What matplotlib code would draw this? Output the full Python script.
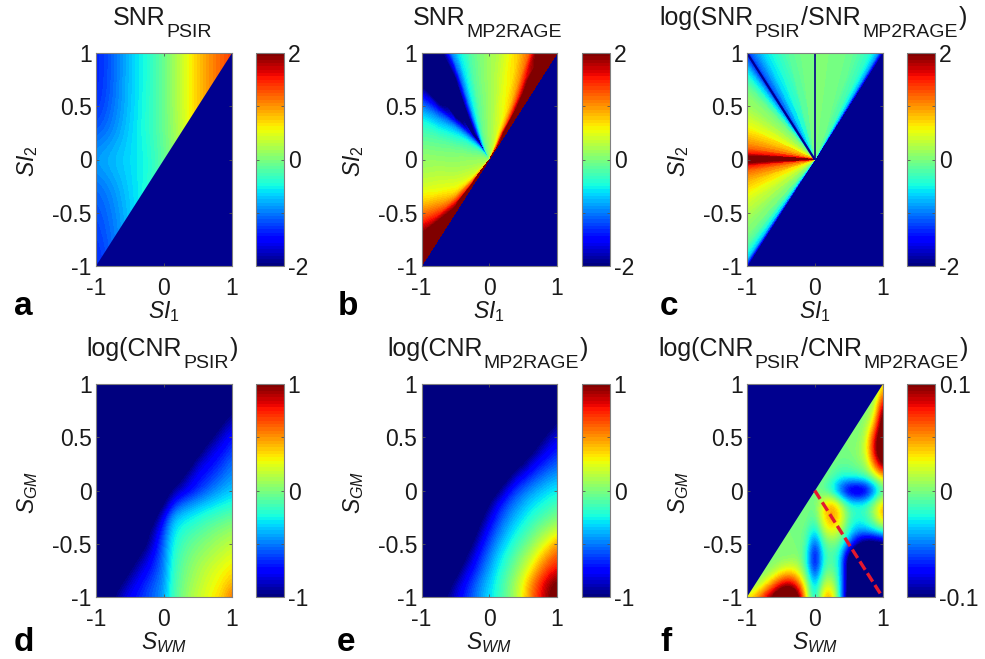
import numpy as np
import matplotlib
matplotlib.use("Agg")
import matplotlib.pyplot as plt
from matplotlib.patches import Polygon
from matplotlib.tri import Triangulation
from matplotlib.cm import ScalarMappable
from matplotlib.colors import Normalize

plt.rcParams['font.family'] = ['Liberation Sans', 'DejaVu Sans']
plt.rcParams['mathtext.fontset'] = 'custom'
plt.rcParams['mathtext.rm'] = 'Liberation Sans'
plt.rcParams['mathtext.it'] = 'Liberation Sans:italic'
plt.rcParams['axes.unicode_minus'] = False

W, H = 985, 659
NAVY = '#00008f'
TEXT = '#1a1a1a'
jet = plt.get_cmap('jet', 64)


def row(*vals):
    # left part of the row is flat navy
    return [-1.1] * (17 - len(vals)) + list(vals)


# grid values, rows run from y=1 down to y=-1
snr_psir = [
    [-1.4, -1.1, -0.7, -0.45, -0.1, 0.35, 0.8, 1.1, 1.4],
    [-1.4, -1.1, -0.7, -0.45, -0.1, 0.35, 0.8, 1.1, 1.4],
    [-1.35, -1.05, -0.7, -0.42, -0.1, 0.35, 0.8, 1.1, 1.4],
    [-1.15, -0.95, -0.65, -0.42, -0.1, 0.3, 0.8, 1.1, 1.4],
    [-0.8, -0.7, -0.62, -0.5, -0.15, 0.25, 0.8, 1.1, 1.4],
    [-1.1, -0.9, -0.65, -0.45, -0.15, 0.25, 0.8, 1.1, 1.4],
    [-1.2, -1.0, -0.7, -0.42, -0.15, 0.25, 0.8, 1.1, 1.4],
    [-1.3, -1.05, -0.72, -0.45, -0.15, 0.25, 0.8, 1.1, 1.4],
    [-1.4, -1.1, -0.75, -0.45, -0.15, 0.25, 0.8, 1.1, 1.4],
]

cnr_psir = [
    row(),
    row(),
    row(-1.0),
    row(-1.1, -0.98, -0.85),
    row(-1.1, -0.95, -0.82, -0.72),
    row(-1.1, -0.9, -0.8, -0.72, -0.62),
    row(-1.1, -0.85, -0.78, -0.7, -0.62, -0.52),
    row(-1.05, -0.85, -0.75, -0.68, -0.6, -0.52, -0.45),
    row(-1.0, -0.85, -0.75, -0.65, -0.55, -0.47, -0.4, -0.35),
    row(-1.05, -0.72, -0.55, -0.47, -0.4, -0.35, -0.3, -0.26, -0.22),
    row(-1.05, -0.75, -0.42, -0.33, -0.28, -0.23, -0.18, -0.14, -0.1, -0.06),
    row(-1.05, -0.88, -0.6, -0.32, -0.22, -0.16, -0.11, -0.06, -0.01, 0.03, 0.07),
    row(-1.1, -1.0, -0.78, -0.52, -0.27, -0.15, -0.07, -0.02, 0.03, 0.08, 0.12, 0.16),
    row(-1.1, -1.0, -0.85, -0.68, -0.5, -0.23, -0.1, -0.02, 0.05, 0.1, 0.15, 0.2, 0.25),
    row(-1.1, -1.0, -0.85, -0.75, -0.62, -0.48, -0.2, -0.07, 0.03, 0.1, 0.17, 0.23, 0.28, 0.33),
    row(-1.1, -1.0, -0.85, -0.75, -0.65, -0.55, -0.45, -0.18, -0.04, 0.06, 0.14, 0.21, 0.27, 0.34, 0.42),
    row(-1.1, -1.0, -0.85, -0.76, -0.68, -0.6, -0.52, -0.42, -0.15, -0.02, 0.09, 0.17, 0.25, 0.32, 0.4, 0.6),
]

cnr_mp2rage = [
    row(),
    row(),
    row(-1.1),
    row(-1.1, -0.93),
    row(-1.05, -0.9, -0.8),
    row(-1.05, -0.87, -0.76, -0.68),
    row(-1.1, -1.0, -0.8, -0.7, -0.62, -0.55),
    row(-1.1, -0.85, -0.72, -0.62, -0.53, -0.46, -0.41),
    row(-1.05, -0.78, -0.63, -0.53, -0.44, -0.37, -0.31, -0.27),
    row(-1.0, -0.75, -0.6, -0.49, -0.39, -0.31, -0.25, -0.19, -0.14),
    row(-1.05, -0.82, -0.63, -0.49, -0.38, -0.29, -0.2, -0.13, -0.06, 0.0),
    row(-1.1, -0.9, -0.68, -0.52, -0.39, -0.28, -0.18, -0.08, 0.02, 0.1, 0.2),
    row(-1.1, -1.0, -0.75, -0.58, -0.42, -0.3, -0.17, -0.07, 0.05, 0.18, 0.33, 0.5),
    row(-1.05, -0.82, -0.64, -0.48, -0.32, -0.2, -0.07, 0.06, 0.2, 0.38, 0.55, 0.65),
    row(-1.1, -0.87, -0.72, -0.55, -0.4, -0.26, -0.12, 0.02, 0.17, 0.35, 0.57, 0.72, 0.82),
    row(-1.1, -0.9, -0.75, -0.6, -0.45, -0.33, -0.2, -0.06, 0.1, 0.3, 0.55, 0.75, 0.95, 1.05),
    row(-1.1, -0.95, -0.82, -0.68, -0.55, -0.42, -0.3, -0.18, -0.05, 0.12, 0.33, 0.6, 0.8, 1.0, 1.1),
]

# 17 x 17 grid, in tenths
cnr_ratio = [
    [0]*16 + [0.3],
    [0]*15 + [0, 0.7],
    [0]*14 + [0, 0.15, 1.1],
    [0]*13 + [0, 0.05, 0.4, 1.3],
    [0]*12 + [0, 0, 0.15, 0.8, 1.4],
    [0]*11 + [0, 0, 0.05, 0.2, 0.9, 1.4],
    [0]*10 + [0, -0.05, -0.05, 0, 0.1, 0.6, 1.1],
    [0]*9 + [0, -0.1, -0.2, -0.2, -0.15, -0.1, 0.1, 0.4],
    [0]*8 + [0, -0.1, -0.3, -0.7, -1.0, -1.1, -1.0, -0.6, -0.2],
    [0]*7 + [0, -0.05, 0.3, 0.5, 0.2, -0.15, -0.2, -0.15, 0.1, 0.45],
    [0]*6 + [0, 0, -0.1, 0.35, 0.55, 0.35, -0.1, -0.2, -0.15, 0.1, 0.5],
    [0]*5 + [0, 0, -0.05, -0.35, 0.15, 0.3, 0.15, -0.2, -0.4, -0.35, -0.25, -0.1],
    [0]*4 + [0, 0, 0, -0.1, -0.7, -0.1, 0, -0.1, -0.5, -0.95, -1.2, -1.2, -1.1],
    [0]*3 + [0, 0, 0, 0.05, -0.2, -0.95, -0.2, -0.1, -0.3, -1.2, -1.5, -1.5, -1.5, -1.5],
    [0]*2 + [0, 0.05, 0.2, 0.3, 0.2, -0.1, -0.8, -0.1, 0, -0.3, -1.2, -1.5, -1.5, -1.5, -1.5],
    [0, 0, 0.2, 0.5, 0.8, 0.9, 0.65, 0.1, -0.45, 0.15, 0.2, -0.3, -1.2, -1.5, -1.5, -1.5, -1.5],
    [0.3, 0.5, 0.8, 1.1, 1.4, 1.5, 1.2, 0.3, -0.4, 0.45, 0.5, -0.3, -1.3, -1.5, -1.5, -1.5, -1.5],
]

# panels b and c read along rays: nodes on the plot edge, values per ring
b_edge_x = [1, .85, .7, .6, .45, .3, .15, 0, -.15, -.3, -.45, -.55, -.65, -.75, -1,
            -1, -1, -1, -1, -1, -1, -1, -1, -1, -1, -1, -1, -1, -1, -1]
b_edge_y = [1, 1, 1, 1, 1, 1, 1, 1, 1, 1, 1, 1, 1, 1, 1,
            .85, .7, .6, .5, .4, .25, .1, -.1, -.25, -.4, -.5, -.6, -.7, -.85, -1]
b_rings = [.01, .25, .5, .75, 1]
snr_mp2rage = [
    [2.5, .8, .4, .3, .25, .2, .15, .15, .05, 0, -.05, -.1, -.2, -.5, -2.0,
     -.5, -.2, -.1, -.05, 0, .05, .1, .15, .15, .2, .22, .25, .3, .6, 2.5],
    [2.5, 1.9, .9, .65, .4, .3, .2, .15, .03, -.05, -.25, -.55, -1.0, -1.6, -2.5,
     -1.4, -.8, -.55, -.35, -.2, -.08, .05, .15, .2, .3, .35, .45, .6, 1.2, 2.5],
    [2.5, 2.0, 1.1, .75, .55, .45, .25, .15, 0, -.15, -.5, -.85, -1.5, -2.3, -2.5,
     -2.4, -1.4, -.9, -.6, -.4, -.15, .02, .15, .25, .4, .5, .65, .95, 1.7, 2.5],
    [2.5, 2.5, 1.5, 1.0, .65, .5, .3, .15, 0, -.2, -.6, -1.1, -2.0, -2.5, -2.5,
     -2.5, -2.0, -1.3, -.85, -.55, -.2, 0, .2, .35, .55, .8, 1.1, 1.5, 2.5, 2.5],
    [2.5, 2.5, 2.0, 1.25, .8, .55, .3, .15, -.02, -.25, -.6, -1.0, -1.8, -2.5, -2.5,
     -2.5, -2.1, -1.5, -1.0, -.6, -.25, 0, .2, .4, .75, 1.1, 1.5, 2.0, 2.5, 2.5],
]

c_edge_x = [1, .97, .93, .87, .8, .6, .4, .2, 0, -.2, -.4, -.6, -.75, -.85, -.93, -.97, -1,
            -1, -1, -1, -1, -1, -1, -1, -1, -1, -1, -1, -1, -1, -1, -1,
            -1, -1, -1, -1, -1, -1, -1, -1, -1, -1, -1, -1, -1, -1, -1]
c_edge_y = [1, 1, 1, 1, 1, 1, 1, 1, 1, 1, 1, 1, 1, 1, 1, 1, 1,
            .97, .93, .87, .8, .7, .6, .5, .4, .3, .2, .15, .1, .05, .02, 0,
            -.02, -.05, -.1, -.15, -.2, -.3, -.4, -.5, -.6, -.7, -.8, -.87, -.93, -.97, -1]
snr_ratio = [-1.9, -1.4, -.9, -.6, -.4, -.15, -.03, 0, 0, -.05, -.2, -.45, -.65, -.9, -1.1, -1.3, -1.5,
             -1.3, -1.1, -.75, -.5, -.15, .05, .15, .35, .55, .85, 1.0, 1.2, 1.6, 2.1, 2.6,
             2.1, 1.6, 1.2, 1.0, .85, .6, .4, .25, .1, 0, -.2, -.45, -.7, -1.2, -1.8]
c_line_x = [0, 0]
c_line_y = [0, 1]
c_anti_x = [0, -1]
c_anti_y = [0, 1]
f_line_x = [0, 1]
f_line_y = [0, -1]
upper_tri = [[-1, -1], [-1, 1], [1, 1]]
lower_tri = [[-1, -1], [1, -1], [1, 1]]

# title pieces: text, is subscript
titles = [
    [('SNR', 0), ('PSIR', 1)],
    [('SNR', 0), ('MP2RAGE', 1)],
    [('log(SNR', 0), ('PSIR', 1), ('/SNR', 0), ('MP2RAGE', 1), (')', 0)],
    [('log(CNR', 0), ('PSIR', 1), (')', 0)],
    [('log(CNR', 0), ('MP2RAGE', 1), (')', 0)],
    [('log(CNR', 0), ('PSIR', 1), ('/CNR', 0), ('MP2RAGE', 1), (')', 0)],
]
letters = ['a', 'b', 'c', 'd', 'e', 'f']
letter_x = [14, 338, 660, 14, 337, 660]
letter_y = [315, 315, 315, 651, 651, 651]
ax_left = [96, 421.5, 747, 96, 421.5, 747]
cb_left = [256, 582, 907, 256, 582, 907]
ax_top = [53, 53, 53, 384, 384, 384]
ax_w, ax_h, cb_w = 135.5, 213, 27.5
limits = [2, 2, 2, 1, 1, 0.1]
cb_labels = [['-2', '0', '2']] * 3 + [['-1', '0', '1']] * 2 + [['-0.1', '0', '0.1']]

fig = plt.figure(figsize=(W / 100, H / 100), dpi=100)
renderer = fig.canvas.get_renderer()


def box(left, top, w, h):
    return fig.add_axes([left / W, 1 - (top + h) / H, w / W, h / H])


def grid_image(ax, vals, lim, clip=None):
    vals = np.array(vals, dtype=float)
    n = vals.shape[0]
    d = 2 / (n - 1)
    im = ax.imshow(vals, cmap=jet, vmin=-lim, vmax=lim, aspect='auto', interpolation='bicubic',
                   interpolation_stage='data', extent=[-1 - d / 2, 1 + d / 2, -1 - d / 2, 1 + d / 2])
    if clip is not None:
        im.set_clip_path(Polygon(clip, transform=ax.transData))


def fan(ax, ex, ey, rings, vals, lim):
    ex, ey, rings = np.array(ex), np.array(ey), np.array(rings)
    vals = np.array(vals, dtype=float)
    xs = np.outer(rings, ex).ravel()
    ys = np.outer(rings, ey).ravel()
    m = len(ex)
    tris = []
    for i in range(len(rings) - 1):
        for j in range(m - 1):
            a = i * m + j
            tris += [[a, a + 1, a + m], [a + 1, a + m + 1, a + m]]
    levels = np.linspace(-lim, lim, 65)
    ax.tricontourf(Triangulation(xs, ys, tris), vals.ravel(), levels=levels, cmap=jet, extend='both')


def title_pieces(pieces, centre, baseline):
    # subscripts are bigger and lower than mathtext would make them
    items = []
    for s, sub in pieces:
        t = fig.text(0, 1 - (baseline + (12 if sub else 0)) / H, s, fontsize=14 if sub else 18,
                     color=TEXT, va='baseline', ha='left')
        items.append(t)
    widths = [t.get_window_extent(renderer).width + 1 for t in items]
    x = centre - sum(widths) / 2
    for t, w in zip(items, widths):
        t.set_x(x / W)
        x += w


axes = []
for i in range(6):
    ax = box(ax_left[i], ax_top[i], ax_w, ax_h)
    ax.set_facecolor(NAVY)
    axes.append(ax)

grid_image(axes[0], snr_psir, 2, upper_tri)
fan(axes[1], b_edge_x, b_edge_y, b_rings, snr_mp2rage, 2)
fan(axes[2], c_edge_x, c_edge_y, [.01, 1], [snr_ratio, snr_ratio], 2)
axes[2].plot(c_line_x, c_line_y, color='#10108a', lw=1.3, solid_capstyle='butt')
axes[2].plot(c_anti_x, c_anti_y, color=NAVY, lw=1.6, solid_capstyle='butt')
grid_image(axes[3], cnr_psir, 1)
grid_image(axes[4], cnr_mp2rage, 1)
grid_image(axes[5], np.array(cnr_ratio) * 0.1, 0.1, lower_tri)
axes[5].plot(f_line_x, f_line_y, color='#e4182e', lw=2.4, dashes=(3, 1.2))

for i, ax in enumerate(axes):
    ax.set_xlim(-1, 1)
    ax.set_ylim(-1, 1)
    ax.set_xticks([-1, 0, 1], ['-1', '0', '1'])
    ax.set_yticks([-1, -0.5, 0, 0.5, 1], ['-1', '-0.5', '0', '0.5', '1'])
    ax.tick_params(direction='in', length=2, width=0.6, top=True, right=True, labelsize=16.5,
                   color='#555555', labelcolor=TEXT)
    ax.tick_params(axis='x', pad=8)
    ax.tick_params(axis='y', pad=3)
    for s in ax.spines.values():
        s.set_color('#808080')
        s.set_linewidth(0.8)
    if i < 3:
        ax.set_xlabel(r'$\mathit{SI}_{\mathit{1}}$', fontsize=16.5, color=TEXT)
        ax.set_ylabel(r'$\mathit{SI}_{\mathit{2}}$', fontsize=16.5, color=TEXT)
    else:
        ax.set_xlabel(r'$\mathit{S}_{\mathit{WM}}$', fontsize=16.5, color=TEXT)
        ax.set_ylabel(r'$\mathit{S}_{\mathit{GM}}$', fontsize=16.5, color=TEXT)
    ax.xaxis.set_label_coords(0.5, -0.155)
    ax.yaxis.set_label_coords(-0.41, 0.49)
    title_pieces(titles[i], ax_left[i] + ax_w / 2 - 1, ax_top[i] - 28)

    cax = box(cb_left[i], ax_top[i], cb_w, ax_h)
    lim = limits[i]
    sm = ScalarMappable(norm=Normalize(-lim, lim), cmap=jet)
    cb = fig.colorbar(sm, cax=cax)
    cb.set_ticks([-lim, -lim / 2, 0, lim / 2, lim])
    cb.set_ticklabels([cb_labels[i][0], '', cb_labels[i][1], '', cb_labels[i][2]])
    cax.tick_params(direction='in', length=2, width=0.6, left=True, right=True, labelsize=16.5,
                    color='#555555', labelcolor=TEXT, pad=3)
    cb.outline.set_edgecolor('#808080')
    cb.outline.set_linewidth(0.8)

    fig.text(letter_x[i] / W, 1 - letter_y[i] / H, letters[i], fontsize=24, fontweight='bold',
             color='black')

fig.savefig('out.png', dpi=100)
